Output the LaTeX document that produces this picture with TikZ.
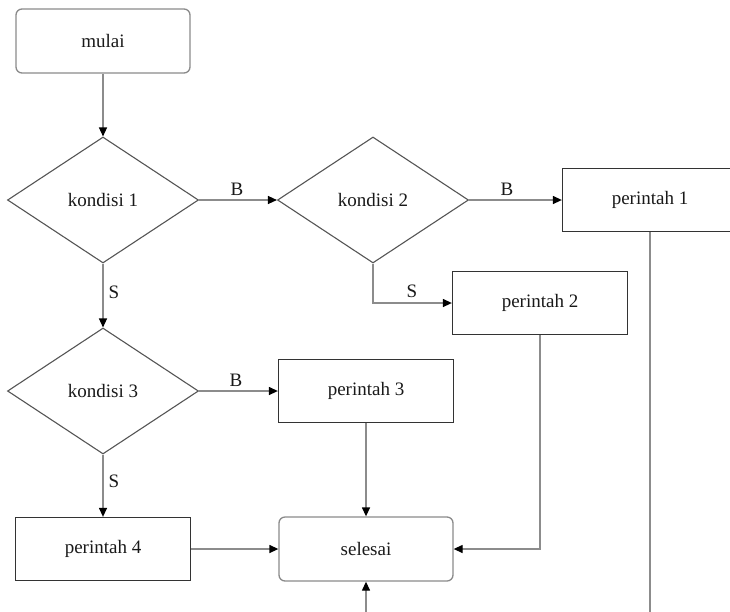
\documentclass[tikz,border=0pt]{standalone}
\usepackage{fontspec}
\setmainfont{Liberation Serif}
\usetikzlibrary{shapes.geometric,arrows.meta}
\definecolor{conn}{HTML}{8C8C8C}
\definecolor{boxline}{HTML}{333333}
\definecolor{roundline}{HTML}{8A8A8A}
\definecolor{diamline}{HTML}{555555}
\tikzset{
  txt/.style={font=\fontsize{19}{22}\selectfont, text=black!90},
  terminal/.style={txt, draw=roundline, line width=1.3pt, rounded corners=6pt, minimum width=174pt, minimum height=64pt, inner sep=0pt},
  procbox/.style={txt, draw=boxline, line width=1.3pt, minimum width=175pt, minimum height=63pt, inner sep=0pt},
  decision/.style={txt, draw=diamline, line width=1.1pt, shape=diamond, aspect=1.5, minimum width=191pt, minimum height=126pt, inner sep=0pt},
  conline/.style={draw=conn, line width=1.3pt, -{Triangle[length=9pt,width=8pt,color=black]}},
  lbl/.style={txt, inner sep=1pt}
}
\begin{document}
\begin{tikzpicture}[x=1pt,y=-1pt]
\useasboundingbox (0,0) rectangle (730,611);
\clip (0,0) rectangle (730,611);
\node[terminal] (mulai) at (103,41) {mulai};
\node[decision] (k1) at (103,200) {kondisi 1};
\node[decision] (k2) at (373,200) {kondisi 2};
\node[procbox] (p1) at (650,200) {perintah 1};
\node[procbox] (p2) at (540,303) {perintah 2};
\node[decision] (k3) at (103,391) {kondisi 3};
\node[procbox] (p3) at (366,391) {perintah 3};
\node[procbox] (p4) at (103,549) {perintah 4};
\node[terminal] (sel) at (366,549) {selesai};
\coordinate (low) at (0,640);

\draw[conline] (mulai.south) -- (k1.north);
\draw[conline] (k1.east) -- (k2.west);
\draw[conline] (k2.east) -- (p1.west);
\draw[conline] (k2.south) |- (p2.west);
\draw[conline] (k1.south) -- (k3.north);
\draw[conline] (k3.east) -- (p3.west);
\draw[conline] (k3.south) -- (p4.north);
\draw[conline] (p3.south) -- (sel.north);
\draw[conline] (p4.east) -- (sel.west);
\draw[conline] (p2.south) |- (sel.east);
\draw[conline] (p1.south) -- (p1.south |- low) -- (sel.south |- low) -- (sel.south);

\node[lbl] (lb1) at (237,189) {B};
\node[lbl] (lb2) at (507,189) {B};
\node[lbl] (ls1) at (412,291) {S};
\node[lbl] (ls2) at (114,292) {S};
\node[lbl] (lb3) at (236,380) {B};
\node[lbl] (ls3) at (114,481) {S};
\end{tikzpicture}
\end{document}
